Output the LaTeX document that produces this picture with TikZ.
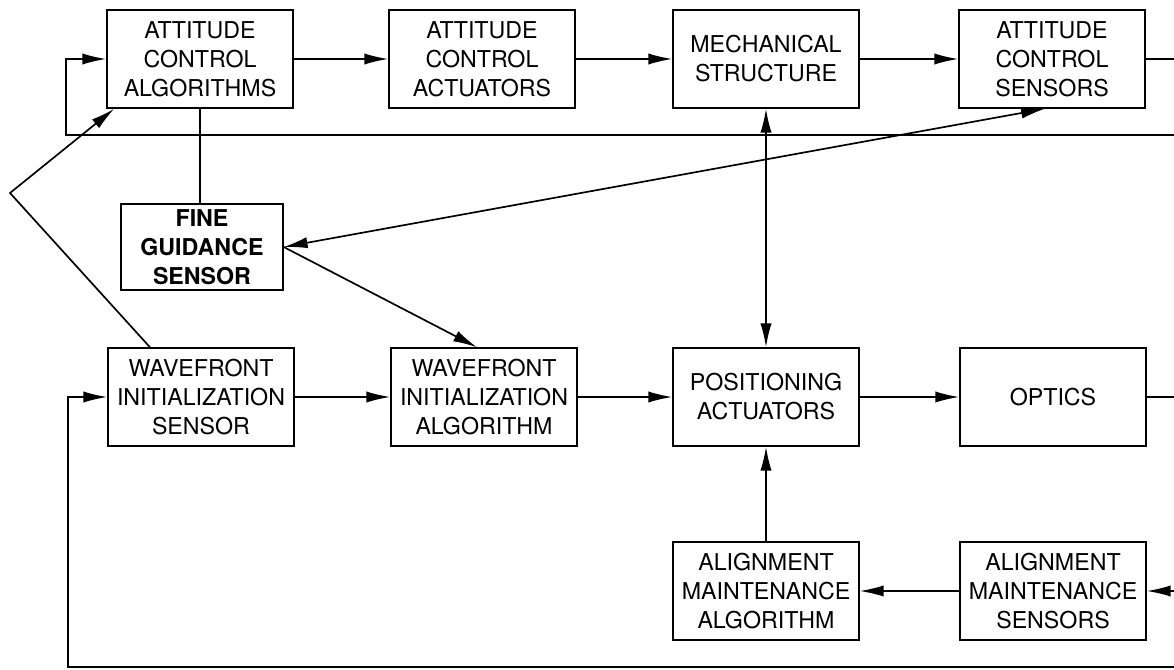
\documentclass[tikz,border=0pt]{standalone}
\usepackage{fontspec}
\setmainfont{TeX Gyre Heros}
\usetikzlibrary{arrows.meta, positioning, calc}

\begin{document}
\begin{tikzpicture}[x=0.025cm, y=-0.025cm, line width=1.2pt,
    block/.style={rectangle, draw, line width=1pt, inner sep=0pt, align=center,
        minimum width=4.65cm, minimum height=2.45cm,
        font=\fontsize{16.5}{20.6}\selectfont},
    arr/.style={-{Latex[length=17pt, width=8pt]}},
    arrs/.style={{Latex[length=17pt, width=8pt]}-{Latex[length=17pt, width=8pt]}}]
    \useasboundingbox (0,0) rectangle (1174,669);

    % attitude loop
    \node[block] (aca) at (200,59) {ATTITUDE\\CONTROL\\ALGORITHMS};
    \node[block] (acact) at (482,59) {ATTITUDE\\CONTROL\\ACTUATORS};
    \node[block] (mech) at (766,59) {MECHANICAL\\STRUCTURE};
    \node[block] (acs) at (1052,59) {ATTITUDE\\CONTROL\\SENSORS};
    \node[block, minimum width=4.05cm, minimum height=2.15cm,
        font=\fontsize{16.5}{20.6}\selectfont\bfseries] (fgs) at (202,247) {FINE\\GUIDANCE\\SENSOR};

    % wavefront and alignment
    \node[block] (wfis) at (201,397) {WAVEFRONT\\INITIALIZATION\\SENSOR};
    \node[block] (wfia) at (484,397) {WAVEFRONT\\INITIALIZATION\\ALGORITHM};
    \node[block] (pos) at (766,397) {POSITIONING\\ACTUATORS};
    \node[block] (optics) at (1053,397) {OPTICS};
    \node[block] (ama) at (766,591) {ALIGNMENT\\MAINTENANCE\\ALGORITHM};
    \node[block] (ams) at (1053,591) {ALIGNMENT\\MAINTENANCE\\SENSORS};

    \coordinate (acsout) at (1174,59);
    \coordinate (topr) at (1174,135);
    \coordinate (topl) at (66,135);
    \coordinate (kink) at (10,193);
    \coordinate (optout) at (1174,397);
    \coordinate (amsin) at (1174,591);
    \coordinate (botr) at (1174,667);
    \coordinate (botl) at (68,667);

    \draw[arr] (aca) -- (acact);
    \draw[arr] (acact) -- (mech);
    \draw[arr] (mech) -- (acs);
    \draw (acs) -- (acsout);
    \draw[arr] (topr) -- (topl) |- (aca);
    \draw (aca.south) -- (aca.south |- fgs.north);
    \draw[arrs] (fgs.east) -- ($(acs.south)+(-7,0)$);
    \draw[arr] (fgs.east) -- ($(wfia.north)+(-7,0)$);
    \draw[arr] ($(wfis.north)+(-51,0)$) -- (kink) -- ($(aca.south west)+(8,0)$);

    \draw[arr] (wfis) -- (wfia);
    \draw[arr] (wfia) -- (pos);
    \draw[arr] (pos) -- (optics);
    \draw (optics) -- (optout);
    \draw[arrs] (mech) -- (pos);
    \draw[arr] (ama) -- (pos);
    \draw[arr] (ams) -- (ama);
    \draw[arr] (amsin) -- (ams);
    \draw[arr] (botr) -- (botl) |- (wfis);
\end{tikzpicture}
\end{document}
